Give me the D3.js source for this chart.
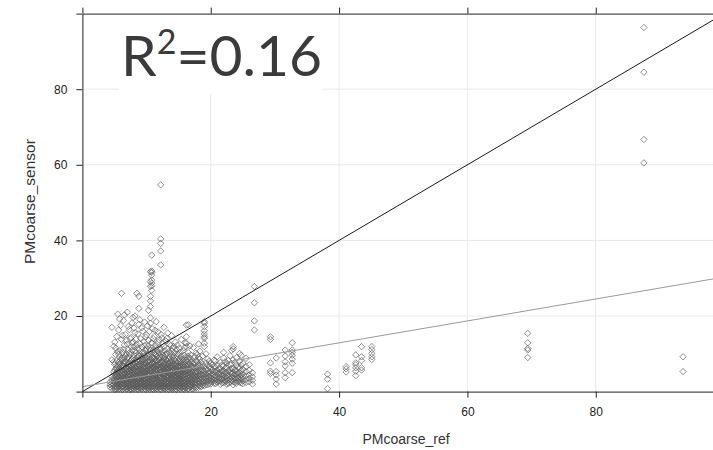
<!DOCTYPE html>
<html>
<head>
<meta charset="utf-8">
<script src="https://cdn.jsdelivr.net/npm/d3@7"></script>
<style>
  html, body { margin: 0; padding: 0; background: #fff; overflow: hidden; }
  svg { display: block; }
</style>
</head>
<body>
<svg id="chart" width="713" height="450"></svg>
<script>
// Reference-instrument PMcoarse values, one entry per column of sensor readings
const refValues = [
  4.3, 4.6, 4.9, 5.2, 5.5, 5.8, 6.1, 6.4, 6.7, 7.0,
  7.3, 7.6, 7.9, 8.2, 8.5, 8.8, 9.1, 9.4, 9.7, 10.0,
  10.3, 10.6, 10.8, 10.9, 11.2, 11.5, 11.8, 12.1, 12.2, 12.4,
  12.7, 13.0, 13.3, 13.6, 13.9, 14.2, 14.5, 14.8, 15.1, 15.4,
  15.7, 16.0, 16.2, 16.5, 16.9, 17.3, 17.7, 18.1, 18.5, 19.0,
  19.5, 20.0, 20.5, 21.0, 21.5, 22.0, 22.5, 23.0, 23.5, 24.0,
  24.5, 25.0, 25.5, 26.0, 26.5, 26.8, 29.3, 30.2, 31.6, 32.7,
  38.2, 41.1, 42.6, 43.5, 45.1, 69.4, 87.5, 93.6,
  5.05, 5.35, 5.65, 5.95, 6.25, 6.55, 6.85, 7.15, 7.45, 7.75,
  8.05, 8.35, 8.65, 8.95, 9.25, 9.55, 9.85, 10.15, 10.45, 10.75,
  11.05, 11.35, 11.65, 11.95, 12.25, 12.55, 12.85, 13.15, 13.45, 13.75,
  14.05, 14.35, 14.65, 14.95, 15.25, 15.55, 15.85, 16.15, 16.45, 16.75,
  17.05, 17.5, 17.9, 18.3, 18.75, 19.25, 19.75,
  20.25, 20.75, 21.25, 21.75, 22.25, 22.75, 23.25, 23.75, 24.25, 24.75
];

// Low-cost sensor PMcoarse readings paired with each reference value above
const sensorValues = [
  [1.2, 1.8, 2.5],
  [0.9, 1.6, 2.2, 3.1, 4.0, 8.4, 17.0],
  [1.1, 1.9, 2.8, 3.6, 5.2, 7.9, 12.0],
  [0.7, 1.4, 2.1, 3.0, 3.9, 4.8, 6.1, 9.8, 11.5],
  [1.0, 1.7, 2.4, 3.3, 4.2, 5.5, 6.8, 10.6, 20.5],
  [0.8, 1.5, 2.0, 2.7, 3.5, 4.4, 5.1, 6.3, 7.4, 9.1, 19.2],
  [1.2, 1.9, 2.6, 3.2, 4.0, 4.9, 5.8, 7.0, 8.6, 13.8, 26.0],
  [0.9, 1.4, 2.2, 2.9, 3.7, 4.5, 5.3, 6.6, 7.8, 11.2, 18.8],
  [1.1, 1.8, 2.5, 3.1, 3.9, 4.7, 5.6, 6.2, 8.0, 9.5, 15.1],
  [0.8, 1.3, 2.0, 2.8, 3.4, 4.1, 5.0, 5.9, 6.9, 8.8, 12.6, 21.0],
  [1.0, 1.6, 2.3, 3.0, 3.8, 4.6, 5.4, 6.4, 7.3, 10.2, 16.4],
  [0.7, 1.2, 1.9, 2.6, 3.3, 4.3, 5.1, 5.7, 6.7, 8.3, 11.8, 14.3],
  [0.9, 1.5, 2.1, 2.9, 3.6, 4.4, 5.2, 6.0, 7.1, 9.0, 13.2, 19.6],
  [1.1, 1.7, 2.4, 3.2, 3.9, 4.8, 5.5, 6.5, 7.6, 10.8, 15.6, 20.0],
  [0.8, 1.3, 2.0, 2.7, 3.5, 4.2, 5.0, 5.8, 6.8, 8.2, 12.4, 26.0],
  [1.0, 1.6, 2.2, 3.0, 3.7, 4.6, 5.3, 6.1, 7.2, 9.4, 11.0, 17.8, 22.0, 25.2],
  [0.9, 1.4, 2.1, 2.8, 3.4, 4.1, 4.9, 5.6, 6.4, 7.5, 8.7, 14.0],
  [1.2, 1.8, 2.5, 3.3, 4.0, 4.7, 5.5, 6.3, 7.0, 8.5, 10.4, 16.0],
  [0.8, 1.5, 2.2, 2.9, 3.6, 4.4, 5.2, 6.0, 6.9, 7.8, 9.6, 12.2, 18.4],
  [1.0, 1.7, 2.4, 3.1, 3.8, 4.6, 5.4, 6.2, 7.3, 8.9, 11.4, 15.0],
  [0.9, 1.3, 2.0, 2.7, 3.5, 4.3, 5.0, 5.9, 6.7, 8.0, 9.9, 13.6, 21.5],
  [1.1, 1.6, 2.3, 3.0, 3.7, 4.5, 5.3, 6.1, 7.0, 8.4, 10.9, 18.1, 19.5, 22.5, 24.0, 25.2, 27.8, 29.1, 31.7],
  [26.8, 28.0, 28.7, 29.5, 30.8, 31.5, 31.9, 36.1],
  [0.8, 1.4, 2.1, 2.8, 3.6, 4.2, 5.1, 5.8, 6.6, 7.7, 9.2, 12.8, 16.6],
  [1.0, 1.7, 2.5, 3.2, 3.9, 4.8, 5.6, 6.4, 7.4, 8.6, 10.1, 14.6],
  [0.9, 1.5, 2.2, 2.9, 3.7, 4.4, 5.2, 6.0, 6.9, 8.1, 9.7, 11.6, 18.5],
  [1.2, 1.8, 2.4, 3.1, 3.8, 4.6, 5.4, 6.3, 7.1, 8.8, 13.0, 15.8],
  [0.8, 1.4, 2.0, 2.7, 3.5, 4.3, 5.0, 5.7, 6.5, 7.6, 9.3, 11.1],
  [33.5, 37.2, 39.2, 40.4, 54.7],
  [1.1, 1.6, 2.3, 3.0, 3.6, 4.5, 5.3, 6.1, 6.8, 8.0, 10.5, 14.2],
  [0.9, 1.5, 2.1, 2.8, 3.4, 4.1, 4.9, 5.6, 6.4, 7.3, 8.9, 12.0, 17.0],
  [1.0, 1.7, 2.4, 3.2, 3.9, 4.7, 5.5, 6.2, 7.2, 8.5, 9.8, 13.4],
  [0.8, 1.3, 2.0, 2.6, 3.4, 4.2, 5.0, 5.9, 6.7, 7.9, 11.3, 15.5],
  [1.1, 1.8, 2.5, 3.3, 4.0, 4.8, 5.7, 6.6, 7.5, 9.1, 12.5],
  [0.9, 1.5, 2.2, 2.9, 3.7, 4.5, 5.2, 6.0, 7.0, 8.3, 10.7, 14.8],
  [1.0, 1.6, 2.3, 3.1, 3.8, 4.6, 5.4, 6.3, 7.4, 9.5, 11.9],
  [0.8, 1.4, 2.1, 2.8, 3.5, 4.3, 5.1, 5.8, 6.8, 8.1, 13.1],
  [1.2, 1.9, 2.6, 3.3, 4.1, 4.9, 5.7, 6.5, 7.7, 10.0, 12.3],
  [0.9, 1.5, 2.2, 3.0, 3.7, 4.4, 5.2, 6.1, 7.0, 8.6, 11.5],
  [1.1, 1.7, 2.4, 3.1, 3.9, 4.7, 5.5, 6.4, 7.6, 9.3, 13.8],
  [0.8, 1.4, 2.0, 2.7, 3.5, 4.2, 5.0, 5.9, 6.9, 8.4, 10.8],
  [1.0, 1.6, 2.3, 3.0, 3.8, 4.6, 5.3, 6.2, 7.3, 9.0, 12.9],
  [11.9, 12.8, 14.5, 17.6],
  [0.9, 1.5, 2.1, 2.9, 3.6, 4.4, 5.1, 6.0, 7.1, 8.7, 10.3, 17.7],
  [1.2, 1.8, 2.5, 3.2, 4.0, 4.8, 5.6, 6.7, 8.0, 9.7],
  [0.8, 1.4, 2.2, 2.8, 3.5, 4.3, 5.2, 6.3, 7.5, 11.7],
  [1.0, 1.7, 2.4, 3.1, 3.9, 4.7, 5.5, 6.6, 8.2, 10.2],
  [1.1, 1.9, 2.6, 3.4, 4.2, 5.0, 6.1, 7.2, 9.0, 12.6],
  [1.3, 2.0, 2.7, 3.6, 4.5, 5.3, 6.4, 7.8],
  [1.5, 2.3, 3.0, 3.8, 4.6, 5.4, 6.5, 11.9, 12.8, 14.1, 14.5, 15.2, 16.1, 17.2, 18.1, 18.5],
  [1.8, 2.6, 3.3, 4.1, 4.9, 5.8, 7.0, 8.6],
  [2.0, 2.8, 3.5, 4.3, 5.1, 6.2, 7.4],
  [2.2, 3.0, 3.8, 4.5, 5.3, 6.6, 8.3],
  [2.5, 3.2, 3.9, 4.8, 5.6, 7.0, 9.2],
  [1.9, 2.8, 3.6, 4.4, 5.2, 6.1, 7.7],
  [2.3, 3.1, 3.8, 4.6, 5.5, 6.8, 8.9, 10.4],
  [2.0, 2.7, 3.5, 4.3, 5.0, 6.3, 7.6],
  [2.4, 3.3, 4.0, 4.9, 5.8, 7.2, 9.5],
  [1.8, 2.6, 3.4, 4.2, 5.1, 6.0, 8.4, 11.3, 11.9],
  [2.2, 3.0, 3.7, 4.6, 5.5, 7.0, 9.0],
  [2.5, 3.3, 4.1, 5.0, 6.2, 8.0, 10.1],
  [2.1, 2.9, 3.8, 4.7, 5.9, 7.5],
  [2.4, 3.2, 4.2, 5.3, 6.6, 8.8],
  [2.6, 3.5, 4.4, 5.6, 7.1],
  [2.0, 3.0, 3.9, 5.0],
  [16.3, 18.7, 23.5, 27.8],
  [4.8, 5.4, 7.6, 13.8, 14.5],
  [2.0, 3.3, 4.4, 5.3, 8.9],
  [3.7, 5.0, 6.8, 7.9, 9.4, 11.0],
  [5.0, 7.5, 8.6, 9.6, 10.4, 11.0, 12.9],
  [0.8, 3.3, 4.6],
  [5.2, 6.0, 6.6],
  [4.2, 5.4, 6.3, 7.1, 7.6, 9.7],
  [5.7, 6.3, 8.2, 9.2, 11.9],
  [8.5, 9.2, 10.1, 11.1, 11.9],
  [9.0, 11.0, 11.4, 12.9, 15.4],
  [60.5, 66.7, 84.5, 96.3],
  [5.3, 9.2],
  [0.6, 1.3, 2.4, 3.4, 4.5, 5.7, 7.2, 13.1],
  [1.0, 2.0, 2.9, 3.8, 5.0, 6.4, 8.1, 14.6],
  [0.7, 1.6, 2.6, 3.6, 4.7, 5.9, 7.8, 9.9, 16.3],
  [1.1, 2.1, 3.0, 4.1, 5.2, 6.6, 8.3, 11.0, 17.5],
  [0.6, 1.5, 2.4, 3.5, 4.6, 5.5, 6.9, 8.9, 10.4, 14.9],
  [1.0, 1.9, 2.8, 3.8, 4.9, 6.0, 7.3, 9.0, 12.3, 20.3],
  [0.7, 1.6, 2.5, 3.6, 4.5, 5.6, 6.5, 7.7, 10.0, 13.6],
  [1.2, 2.1, 3.0, 4.0, 5.3, 6.1, 7.6, 9.3, 11.1, 17.2],
  [0.6, 1.4, 2.4, 3.4, 4.4, 5.6, 6.8, 8.0, 9.8, 14.0],
  [1.0, 1.8, 2.7, 3.8, 4.9, 6.3, 7.4, 8.6, 10.9, 12.8, 18.2],
  [0.7, 1.5, 2.5, 3.5, 4.5, 5.7, 6.9, 8.3, 9.7, 11.9, 16.8],
  [1.1, 2.0, 2.9, 3.9, 5.1, 6.2, 7.4, 8.7, 10.3, 13.9],
  [0.6, 1.5, 2.4, 3.3, 4.4, 5.5, 6.6, 7.9, 9.2, 11.6, 15.3],
  [1.0, 1.9, 2.7, 3.7, 4.8, 5.9, 7.0, 8.2, 10.0, 12.7, 19.0],
  [0.7, 1.6, 2.5, 3.5, 4.5, 5.6, 6.7, 7.9, 9.3, 11.8, 16.9],
  [1.2, 2.0, 2.9, 3.9, 5.0, 6.1, 7.2, 8.4, 10.1, 13.3],
  [0.6, 1.4, 2.3, 3.3, 4.3, 5.4, 6.5, 7.6, 8.8, 10.9, 14.4],
  [1.0, 1.8, 2.7, 3.7, 4.7, 5.7, 6.9, 8.1, 9.5, 12.0, 17.4],
  [0.7, 1.5, 2.5, 3.4, 4.4, 5.5, 6.6, 7.7, 9.1, 11.3, 15.9],
  [1.1, 2.0, 2.9, 3.9, 4.9, 6.0, 7.2, 8.5, 10.0, 12.9],
  [0.6, 1.5, 2.4, 3.3, 4.3, 5.4, 6.5, 7.8, 9.0, 11.0, 14.0],
  [1.0, 1.9, 2.8, 3.7, 4.8, 5.8, 7.0, 8.3, 9.9, 12.4, 16.2],
  [0.7, 1.6, 2.5, 3.5, 4.5, 5.6, 6.8, 7.9, 9.4, 10.8],
  [1.2, 2.1, 3.0, 3.9, 5.0, 6.0, 7.1, 8.4, 10.2, 13.7],
  [0.6, 1.4, 2.3, 3.3, 4.2, 5.2, 6.4, 7.7, 8.9, 11.2, 15.1],
  [1.0, 1.8, 2.7, 3.7, 4.7, 5.8, 6.9, 8.1, 9.6, 12.7],
  [0.7, 1.5, 2.4, 3.4, 4.4, 5.4, 6.5, 7.8, 9.2, 10.9],
  [1.1, 2.0, 2.9, 3.8, 4.9, 6.0, 7.0, 8.3, 10.0, 14.1],
  [0.6, 1.4, 2.3, 3.2, 4.3, 5.3, 6.3, 7.4, 8.7, 10.5],
  [1.0, 1.9, 2.8, 3.7, 4.6, 5.6, 6.8, 8.0, 9.9, 12.1],
  [0.7, 1.6, 2.5, 3.4, 4.4, 5.5, 6.5, 7.7, 9.0, 11.4],
  [1.2, 2.0, 2.9, 3.8, 4.9, 5.9, 7.0, 8.4, 10.3],
  [0.6, 1.5, 2.4, 3.3, 4.2, 5.3, 6.3, 7.5, 9.2, 11.2],
  [1.0, 1.8, 2.7, 3.6, 4.6, 5.6, 6.7, 8.0, 9.8],
  [0.7, 1.5, 2.4, 3.4, 4.4, 5.5, 6.6, 7.9, 10.4],
  [1.1, 2.0, 2.8, 3.8, 4.8, 5.9, 7.1, 8.6],
  [0.6, 1.4, 2.3, 3.3, 4.3, 5.4, 6.5, 7.8, 9.6, 11.6],
  [1.0, 1.9, 2.7, 3.6, 4.6, 5.7, 6.9, 8.3],
  [0.7, 1.6, 2.5, 3.4, 4.4, 5.5, 6.6, 7.9, 9.4],
  [1.2, 2.1, 2.9, 3.8, 4.9, 6.0, 7.3, 8.8, 12.1],
  [0.8, 1.6, 2.5, 3.4, 4.4, 5.4, 6.6, 7.9],
  [1.2, 2.1, 3.0, 3.9, 5.0, 6.2, 7.7, 9.3],
  [1.4, 2.3, 3.2, 4.1, 5.2, 6.5, 8.0, 9.8],
  [1.5, 2.4, 3.3, 4.4, 5.6, 6.9, 8.6, 10.7],
  [1.7, 2.6, 3.5, 4.5, 5.7, 7.2, 9.4],
  [1.9, 2.8, 3.7, 4.7, 5.9, 7.6, 10.0],
  [2.1, 3.1, 4.0, 5.0, 6.5, 8.0],
  [2.6, 3.4, 4.6, 5.8, 7.1],
  [2.1, 3.0, 4.1, 5.3, 6.4, 8.1],
  [2.7, 3.6, 4.7, 6.0],
  [2.3, 3.3, 4.3, 5.4, 6.9],
  [2.8, 3.9, 5.1, 6.2, 7.9],
  [2.2, 3.1, 4.2, 5.6, 8.2],
  [2.9, 3.8, 4.8, 6.1, 7.4, 10.9],
  [2.4, 3.5, 4.5, 5.7, 7.7],
  [2.7, 3.7, 4.9, 6.4],
  [2.3, 3.4, 4.4, 5.5, 7.0, 9.6]
];

// Fitted linear regression (sensor ~ reference) and its coefficient of determination
const fitIntercept = 1.3;
const fitSlope = 0.29;
const rSquared = "0.16";

const axisTicks = [0, 20, 40, 60, 80, 100];
const labelledTicks = [20, 40, 60, 80];

const points = refValues.flatMap((r, i) => sensorValues[i].map(s => ({ ref: r, sensor: s })));

const svg = d3.select("#chart");
const plotLeft = 82.4, plotTop = 13.6, plotBottom = 391.6, unitX = 6.417;

const x = d3.scaleLinear().domain([0, 100]).range([plotLeft, plotLeft + 100 * unitX]);
const y = d3.scaleLinear().domain([0, 100]).range([plotBottom, plotTop]);
const [x0, x1] = x.range();

// light grid
const grid = svg.append("g").attr("stroke", "#e9e9e9").attr("stroke-width", 1);
grid.selectAll("line.v").data(labelledTicks).join("line")
  .attr("class", "v")
  .attr("x1", d => x(d)).attr("x2", d => x(d))
  .attr("y1", y(100)).attr("y2", y(0));
grid.selectAll("line.h").data(labelledTicks).join("line")
  .attr("class", "h")
  .attr("x1", x0).attr("x2", x1)
  .attr("y1", d => y(d)).attr("y2", d => y(d));

// white panel behind the R² annotation
svg.append("rect")
  .attr("x", 119).attr("y", plotTop).attr("width", 204).attr("height", 81)
  .attr("fill", "#fff");

// scatter of open diamonds
const diamond = "M0,-3.2L3.2,0L0,3.2L-3.2,0Z";
svg.append("g")
  .selectAll("path")
  .data(points)
  .join("path")
  .attr("d", diamond)
  .attr("transform", d => `translate(${x(d.ref)},${y(d.sensor)})`)
  .attr("fill", "none")
  .attr("stroke", "#5c5c5c")
  .attr("stroke-opacity", 0.68)
  .attr("stroke-width", 1);

// 1:1 line
svg.append("line")
  .attr("x1", x(0)).attr("y1", y(0))
  .attr("x2", x(100)).attr("y2", y(100))
  .attr("stroke", "#1a1a1a").attr("stroke-width", 1);

// regression line
svg.append("line")
  .attr("x1", x(0)).attr("y1", y(fitIntercept))
  .attr("x2", x(100)).attr("y2", y(fitIntercept + fitSlope * 100))
  .attr("stroke", "#9a9a9a").attr("stroke-width", 1);

const fmt = d => labelledTicks.includes(d) ? d : "";
const styleAxis = g => {
  g.select(".domain").attr("stroke", "#222");
  g.selectAll(".tick line").attr("stroke", "#222");
  g.selectAll(".tick text")
    .attr("fill", "#222")
    .style("font-family", "'Liberation Sans', Arial, sans-serif")
    .style("font-size", "12px");
};

svg.append("g").attr("transform", `translate(${plotLeft},0)`)
  .call(d3.axisLeft(y).tickValues(axisTicks).tickSize(6).tickSizeOuter(0).tickPadding(9).tickFormat(fmt))
  .call(styleAxis);
svg.append("g").attr("transform", `translate(0,${plotBottom})`)
  .call(d3.axisBottom(x).tickValues(axisTicks).tickSize(6).tickSizeOuter(0).tickPadding(10).tickFormat(fmt))
  .call(styleAxis);
svg.append("g").attr("transform", `translate(0,${plotTop})`)
  .call(d3.axisTop(x).tickValues(axisTicks).tickSize(6).tickSizeOuter(0).tickFormat(() => ""))
  .call(styleAxis);

// axis titles
svg.append("text")
  .attr("x", 406).attr("y", 444)
  .attr("text-anchor", "middle")
  .attr("fill", "#333")
  .style("font-family", "'Liberation Sans', Arial, sans-serif")
  .style("font-size", "14px")
  .text("PMcoarse_ref");
svg.append("text")
  .attr("transform", `translate(35,${(plotTop + plotBottom) / 2 - 1}) rotate(-90)`)
  .attr("text-anchor", "middle")
  .attr("fill", "#333")
  .style("font-family", "'Liberation Sans', Arial, sans-serif")
  .style("font-size", "15.5px")
  .text("PMcoarse_sensor");

// R² annotation
const ann = svg.append("text")
  .attr("x", 121).attr("y", 76)
  .attr("fill", "#3a3a3a")
  .style("font-family", "Lato, 'Open Sans', sans-serif")
  .style("font-size", "57px");
ann.append("tspan").text("R");
ann.append("tspan").attr("dy", -22).style("font-size", "34px").text("2");
ann.append("tspan").attr("dy", 22).text("=" + rSquared);
</script>
</body>
</html>
